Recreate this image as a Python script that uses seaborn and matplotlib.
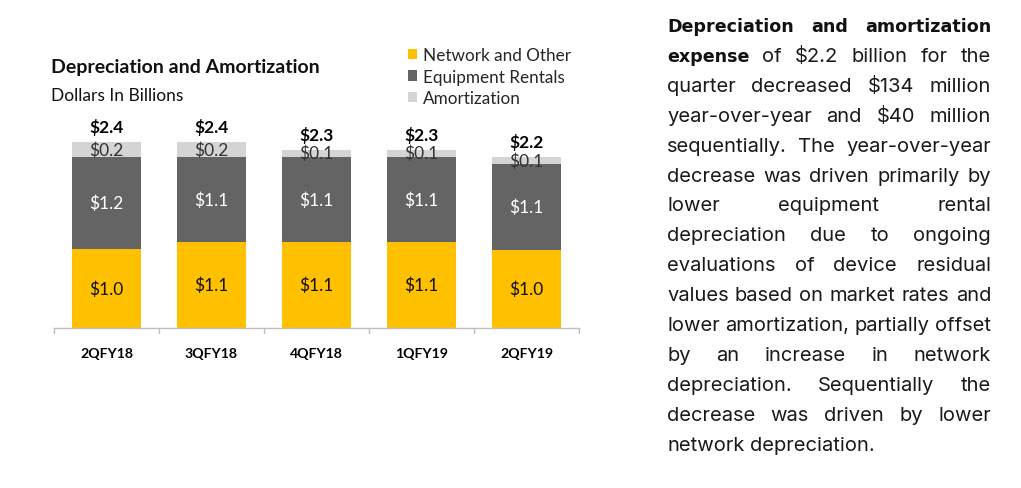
import matplotlib
matplotlib.use("Agg")
import matplotlib.pyplot as plt
import seaborn as sns
import numpy as np
import pandas as pd
from matplotlib.patches import Patch

quarters = ["2QFY18", "3QFY18", "4QFY18", "1QFY19", "2QFY19"]
network = [1.02, 1.11, 1.11, 1.11, 1.01]
equipment = [1.19, 1.10, 1.10, 1.10, 1.10]
amortization = [0.19, 0.19, 0.09, 0.09, 0.10]
network_labels = ["$1.0", "$1.1", "$1.1", "$1.1", "$1.0"]
equipment_labels = ["$1.2", "$1.1", "$1.1", "$1.1", "$1.1"]
amort_labels = ["$0.2", "$0.2", "$0.1", "$0.1", "$0.1"]
total_labels = ["$2.4", "$2.4", "$2.3", "$2.3", "$2.2"]
series_names = ["Network and Other", "Equipment Rentals", "Amortization"]

C_NET = "#FFC000"
C_EQ = "#646464"
C_AM = "#D4D4D4"

sns.set_theme(style="white")
plt.rcParams["font.family"] = ["Lato", "DejaVu Sans"]

W, H = 1021, 489
fig = plt.figure(figsize=(W / 100, H / 100), dpi=100)

# axes in pixel coords: left 54, right 579, baseline 329, top 50
ax_l, ax_r, ax_b, ax_t = 54, 579, 329, 50
ax = fig.add_axes([ax_l / W, 1 - ax_b / H, (ax_r - ax_l) / W, (ax_b - ax_t) / H])

df = pd.DataFrame({"q": quarters, "net": network, "eq": equipment, "am": amortization})
df["c2"] = df["net"] + df["eq"]
df["c3"] = df["c2"] + df["am"]

bw = 0.66
sns.barplot(data=df, x="q", y="c3", color=C_AM, width=bw, ax=ax, saturation=1, linewidth=0)
sns.barplot(data=df, x="q", y="c2", color=C_EQ, width=bw, ax=ax, saturation=1, linewidth=0)
sns.barplot(data=df, x="q", y="net", color=C_NET, width=bw, ax=ax, saturation=1, linewidth=0)

ymax = (ax_b - ax_t) / 77.5
ax.set_ylim(0, ymax)
ax.set_xlim(-0.5, 4.5)
ax.set_xlabel("")
ax.set_ylabel("")
ax.set_yticks([])
for s in ["top", "right", "left"]:
    ax.spines[s].set_visible(False)
ax.spines["bottom"].set_color("#BFBFBF")
ax.spines["bottom"].set_linewidth(1.0)
ax.set_xticks(np.arange(len(quarters)))
ax.set_xticklabels(quarters, fontsize=10.2, fontweight="bold", color="#000000")
ax.tick_params(axis="x", length=0, pad=14)
# boundary tick marks
for b in np.arange(-0.5, 4.6, 1.0):
    ax.plot([b, b], [0, -0.07], color="#BFBFBF", lw=1.0, clip_on=False)

for i in range(len(quarters)):
    n = df.loc[i, "net"]
    c2 = df.loc[i, "c2"]
    c3 = df.loc[i, "c3"]
    ax.text(i, n / 2, network_labels[i], ha="center", va="center", fontsize=12.5, color="#111111")
    ax.text(i, (n + c2) / 2, equipment_labels[i], ha="center", va="center", fontsize=12.5, color="white")
    ax.text(i, (c2 + c3) / 2, amort_labels[i], ha="center", va="center", fontsize=12.5, color="#333333")
    ax.text(i, c3 + 15 / 77.5, total_labels[i], ha="center", va="center", fontsize=12.5,
            fontweight="bold", color="#000000")

# title & subtitle
fig.text(51 / W, 1 - 68 / H, "Depreciation and Amortization", fontsize=14, fontweight="bold",
         ha="left", va="center", color="#111111")
fig.text(51 / W, 1 - 96 / H, "Dollars In Billions", fontsize=12.5, ha="left", va="center",
         color="#111111")

handles = [Patch(facecolor=C_NET, edgecolor="none"), Patch(facecolor=C_EQ, edgecolor="none"),
           Patch(facecolor=C_AM, edgecolor="none")]
fig.legend(handles, series_names, loc="upper left", bbox_to_anchor=(408 / W, 1 - 48 / H),
           frameon=False, fontsize=12.3, handlelength=0.55, handleheight=0.55, handletextpad=0.35,
           labelspacing=0.33, borderaxespad=0, borderpad=0)

# right-side justified paragraph
para_lines = [
    [("Depreciation", True), ("and", True), ("amortization", True)],
    [("expense", True), ("of", False), ("$2.2", False), ("billion", False), ("for", False), ("the", False)],
    "quarter decreased $134 million",
    "year-over-year and $40 million",
    "sequentially. The year-over-year",
    "decrease was driven primarily by",
    "lower equipment rental",
    "depreciation due to ongoing",
    "evaluations of device residual",
    "values based on market rates and",
    "lower amortization, partially offset",
    "by an increase in network",
    "depreciation. Sequentially the",
    "decrease was driven by lower",
    "network depreciation.",
]
x0, x1 = 667, 991
y0, dy = 27, 29.9
fig.canvas.draw()
renderer = fig.canvas.get_renderer()
for li, line in enumerate(para_lines):
    if isinstance(line, str):
        words = [(w, False) for w in line.split()]
    else:
        words = line
    y = 1 - (y0 + li * dy) / H
    texts = []
    widths = []
    for w, b in words:
        if b:
            t = fig.text(0, y, w, fontsize=12.6, fontweight="bold",
                         family=["DejaVu Sans"], ha="left", va="center", color="#111111")
        else:
            t = fig.text(0, y, w, fontsize=14.5, fontweight="normal",
                         family=["Inter", "DejaVu Sans"], ha="left", va="center", color="#1a1a1a")
        bb = t.get_window_extent(renderer=renderer)
        texts.append(t)
        widths.append(bb.width)
    last = li == len(para_lines) - 1
    if last or len(words) == 1:
        gap = 5.5
    else:
        gap = (x1 - x0 - sum(widths)) / (len(words) - 1)
    x = x0
    for t, wd in zip(texts, widths):
        t.set_x(x / W)
        x += wd + gap

fig.savefig("out.png", dpi=100)
